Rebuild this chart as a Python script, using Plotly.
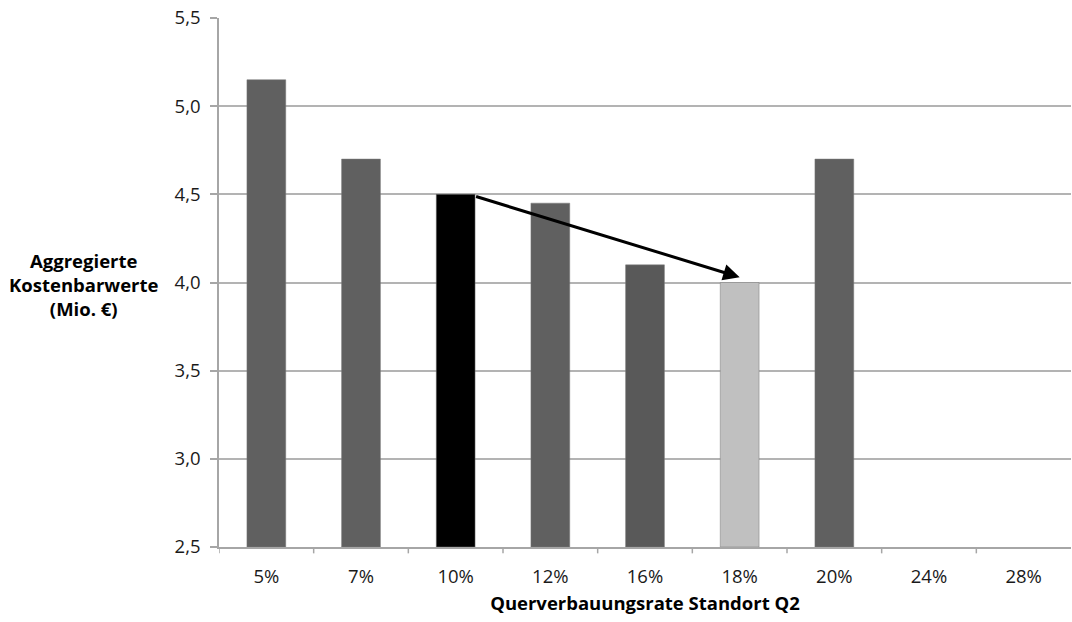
import plotly.graph_objects as go

categories = ["5%", "7%", "10%", "12%", "16%", "18%", "20%", "24%", "28%"]
values = [5.15, 4.70, 4.50, 4.45, 4.10, 4.00, 4.70, None, None]
bar_colors = ["#606060", "#606060", "#000000", "#606060", "#595959",
              "#c0c0c0", "#606060", "#606060", "#606060"]

y_ticks = [2.5, 3.0, 3.5, 4.0, 4.5, 5.0, 5.5]
y_tick_text = ["2,5", "3,0", "3,5", "4,0", "4,5", "5,0", "5,5"]

font_family = "Open Sans, Lato, DejaVu Sans, sans-serif"
tick_font = dict(family=font_family, size=18.5, color="#1a1a1a")
title_font = dict(family=font_family, size=18.5, color="#000000")
y_base = 2.5

fig = go.Figure()
fig.add_trace(go.Bar(
    x=list(range(len(categories))),
    y=[v - y_base if v is not None else None for v in values],
    base=y_base,
    marker=dict(color=bar_colors, line=dict(color="#7a7a7a", width=0.5)),
    width=0.41,
    hoverinfo="skip",
))

# Arrow from the 10% bar down to the 18% bar
fig.add_annotation(
    x=5.0, y=4.03, ax=2.2, ay=4.49,
    xref="x", yref="y", axref="x", ayref="y",
    showarrow=True, arrowhead=2, arrowsize=1.1, arrowwidth=3,
    arrowcolor="#000000", text="",
)

# Horizontal y-axis title
fig.add_annotation(
    text="<b>Aggregierte<br>Kostenbarwerte<br>(Mio. €)</b>",
    x=-0.158, y=0.497, xref="paper", yref="paper",
    xanchor="center", yanchor="middle", showarrow=False,
    font=title_font, align="center",
)

fig.update_layout(
    width=1072, height=622,
    margin=dict(l=219, r=1, t=18, b=75),
    plot_bgcolor="white", paper_bgcolor="white",
    showlegend=False,
    font=dict(family=font_family, size=18.5, color="#1a1a1a"),
    xaxis=dict(
        tickmode="array",
        tickvals=list(range(len(categories))),
        ticktext=categories,
        tickfont=tick_font,
        range=[-0.5, len(categories) - 0.5],
        showgrid=False,
        showline=True, linecolor="#a6a6a6", linewidth=1.5,
        ticks="", ticklabelstandoff=12,
        title=dict(text="<b>Querverbauungsrate Standort Q2</b>",
                   font=title_font, standoff=10),
        zeroline=False,
    ),
    yaxis=dict(
        range=[2.5, 5.5],
        tickmode="array", tickvals=y_ticks, ticktext=y_tick_text,
        tickfont=tick_font,
        showgrid=True, gridcolor="#b3b3b3", gridwidth=1.5,
        showline=True, linecolor="#a6a6a6", linewidth=1.5,
        ticks="outside", ticklen=7, tickcolor="#a6a6a6", tickwidth=1.5,
        ticklabelstandoff=6,
        zeroline=False,
    ),
)

# Category separator ticks below the x axis
for i in range(len(categories)):
    fig.add_shape(type="line", xref="x", yref="paper",
                  x0=i - 0.5, x1=i - 0.5, y0=0, y1=-0.012,
                  line=dict(color="#a6a6a6", width=1.5))

fig.write_html("out.html")
